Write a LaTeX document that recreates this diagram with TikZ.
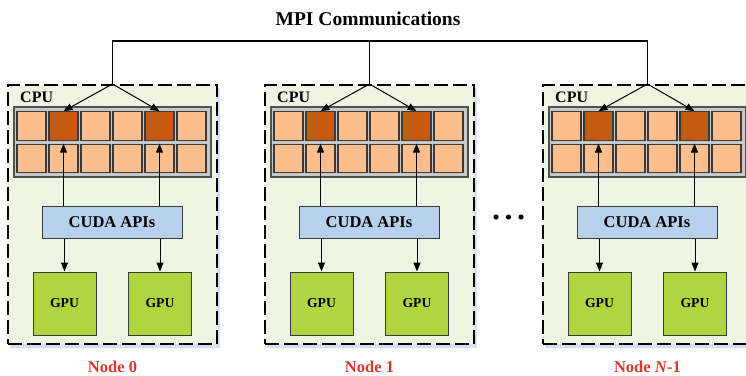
\documentclass[tikz,border=0pt]{standalone}
\usepackage{fontspec}
\setmainfont{Liberation Serif}
\usetikzlibrary{arrows.meta}
\definecolor{boxgreen}{HTML}{EEF6E3}
\definecolor{shadowblue}{HTML}{D6E0F2}
\definecolor{arraygray}{HTML}{C8C8C8}
\definecolor{arrayedge}{HTML}{505050}
\definecolor{cellorange}{HTML}{FBBE8C}
\definecolor{celldark}{HTML}{C55A11}
\definecolor{celledge}{HTML}{3A3A3A}
\definecolor{cudablue}{HTML}{B7D0EC}
\definecolor{gpugreen}{HTML}{B0D63F}
\definecolor{labelred}{HTML}{E0362C}
\begin{document}
\begin{tikzpicture}[x=1pt,y=-1pt,
  nodebox/.style={draw=black, line width=2pt, dash pattern=on 14pt off 5pt, fill=boxgreen,
    minimum width=209pt, minimum height=259pt, inner sep=0pt},
  cpuarray/.style={draw=arrayedge, line width=1.3pt, fill=arraygray,
    minimum width=197pt, minimum height=70pt, inner sep=0pt},
  cell/.style={draw=celledge, line width=1.2pt, fill=cellorange,
    minimum width=29pt, minimum height=28.5pt, inner sep=0pt},
  hot/.style={cell, fill=celldark},
  cudabox/.style={draw=celledge, line width=1pt, fill=cudablue,
    minimum width=140pt, minimum height=32pt, inner sep=0pt,
    font=\fontsize{16.5}{18}\selectfont\bfseries},
  gpubox/.style={draw=celledge, line width=1pt, fill=gpugreen,
    minimum width=63pt, minimum height=63pt, inner sep=0pt,
    font=\fontsize{13.7}{15}\selectfont\bfseries},
  arrow/.style={-{Triangle[length=9pt,width=7pt]}, line width=1pt},
  bus/.style={line width=1.5pt},
  cpulabel/.style={anchor=base west, inner sep=0pt, font=\fontsize{16}{18}\selectfont\bfseries},
  nodelabel/.style={anchor=base, inner sep=0pt, text=labelred, font=\fontsize{16.5}{18}\selectfont\bfseries},
  titlelabel/.style={anchor=base, inner sep=0pt, font=\fontsize{19.5}{22}\selectfont\bfseries}
]
\useasboundingbox (0,0) rectangle (746,375);
\clip (0,0) rectangle (746,375);

\node[titlelabel] (title) at (368,25) {MPI Communications};

\foreach \i/\off/\lab in {0/0/0, 1/257/1, 2/535/{\textit{N}-1}} {
  \begin{scope}[xshift=\off pt]
    \fill[shadowblue] (10,87.5) rectangle (220,347.5);
    \node[nodebox] (box\i) at (112.5,214.5) {};
    \node[cpulabel] (cpu\i) at (20,102) {CPU};
    \node[cpuarray] (arr\i) at (112.5,142) {};
    \foreach \c/\st in {1/cell,2/hot,3/cell,4/cell,5/hot,6/cell} {
      \node[\st] (c\i-1-\c) at ({31.5+32*(\c-1)},126) {};
      \node[cell] (c\i-2-\c) at ({31.5+32*(\c-1)},158.5) {};
    }
    \node[cudabox] (cuda\i) at (112,222) {CUDA APIs};
    \node[gpubox] (gpuA\i) at (64.5,303.5) {GPU};
    \node[gpubox] (gpuB\i) at (160,303.5) {GPU};
    \node[nodelabel] (lab\i) at (112.5,372) {Node \lab};
    \draw[arrow] (box\i.north) -- (c\i-1-2.north);
    \draw[arrow] (box\i.north) -- (c\i-1-5.north);
    \draw[arrow] (cuda\i.north -| c\i-2-2.center) -- (c\i-2-2.north);
    \draw[arrow] (cuda\i.north -| c\i-2-5.center) -- (c\i-2-5.north);
    \draw[arrow] (cuda\i.south -| gpuA\i.center) -- (gpuA\i.north);
    \draw[arrow] (cuda\i.south -| gpuB\i.center) -- (gpuB\i.north);
  \end{scope}
}

\coordinate (bus) at (368,41);
\draw[bus] (box0.north) |- (bus) -| (box2.north);
\draw[bus] (box1.north) -- (box1.north |- bus);

\foreach \x in {496,508.5,521} \fill (\x,217) circle (2.6);
\end{tikzpicture}
\end{document}
